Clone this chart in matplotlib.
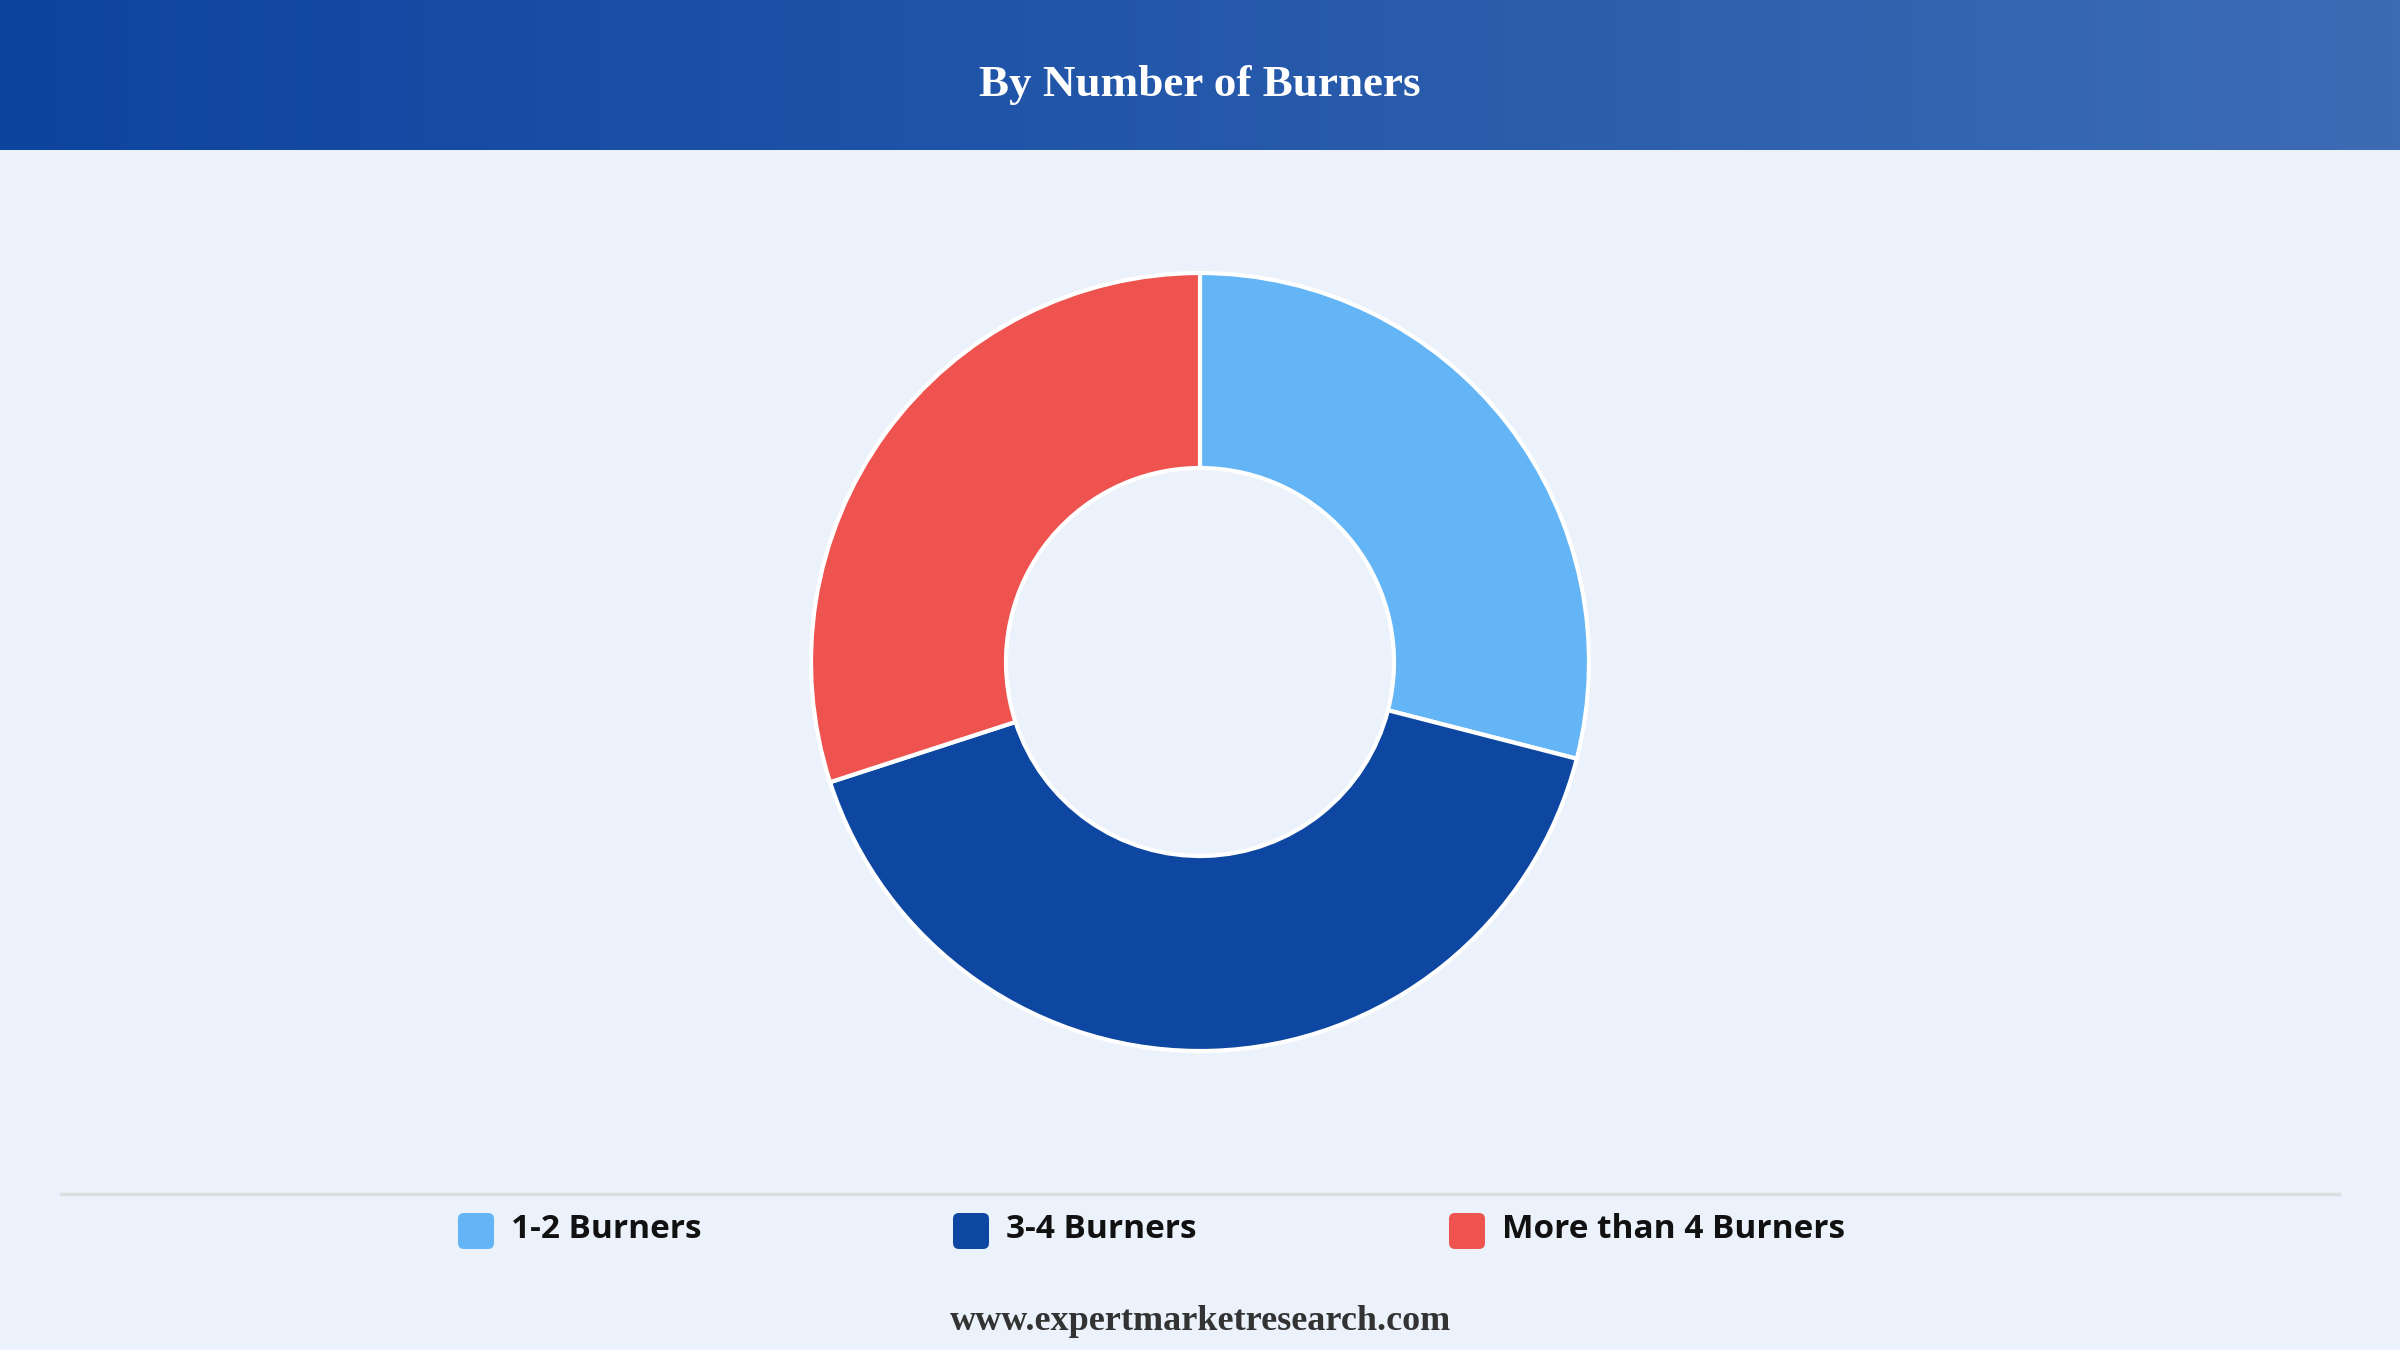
import matplotlib
matplotlib.use("Agg")
import matplotlib.pyplot as plt
import numpy as np
from matplotlib.patches import FancyBboxPatch

# ---- data ----
categories = ["1-2 Burners", "3-4 Burners", "More than 4 Burners"]
shares = [29, 41, 30]
colors = ["#64b5f6", "#0d47a1", "#ef5350"]
title = "By Number of Burners"
footer = "www.expertmarketresearch.com"

W, H = 2400, 1350
fig = plt.figure(figsize=(24, 13.5), dpi=100)
fig.patch.set_facecolor("#ebf2fc")
ax = fig.add_axes([0, 0, 1, 1])
ax.set_xlim(0, W)
ax.set_ylim(0, H)
ax.set_aspect("equal")
ax.axis("off")

# header gradient
grad = np.linspace(0, 1, 512)
c0 = np.array([13, 68, 160]) / 255
c1 = np.array([60, 108, 180]) / 255
img = c0[None, :] * (1 - grad[:, None]) + c1[None, :] * grad[:, None]
ax.imshow(img[None, :, :], extent=[0, W, H - 150, H], aspect="auto", zorder=1)
ax.text(W / 2, H - 85, title, ha="center", va="center", color="white",
        fontsize=32.5, fontweight="bold", family="Liberation Serif", zorder=2)

# donut
ax.pie(shares, colors=colors, startangle=90, counterclock=False,
       center=(1200, H - 662), radius=389, frame=True,
       wedgeprops=dict(width=195, edgecolor="white", linewidth=3))
ax.set_xlim(0, W)
ax.set_ylim(0, H)
ax.axis("off")

# separator
ax.plot([61, 2339], [H - 1194, H - 1194], color="#dcdddf", lw=2.5, zorder=1)

# legend
leg_x = [458, 953, 1449]
ly = H - 1231
for x, lab, col in zip(leg_x, categories, colors):
    ax.add_patch(FancyBboxPatch((x + 4, ly - 14), 28, 28,
                                boxstyle="round,pad=4,rounding_size=6",
                                facecolor=col, edgecolor="none", zorder=3))
    ax.text(x + 53, ly + 1, lab, ha="left", va="center", fontsize=24,
            fontweight="bold", family="Open Sans", color="#111111", zorder=3)

ax.text(W / 2, H - 1321, footer, ha="center", va="center", fontsize=26,
        fontweight="bold", family="Liberation Serif", color="#333333")

fig.savefig("out.png", dpi=100, facecolor=fig.get_facecolor())
